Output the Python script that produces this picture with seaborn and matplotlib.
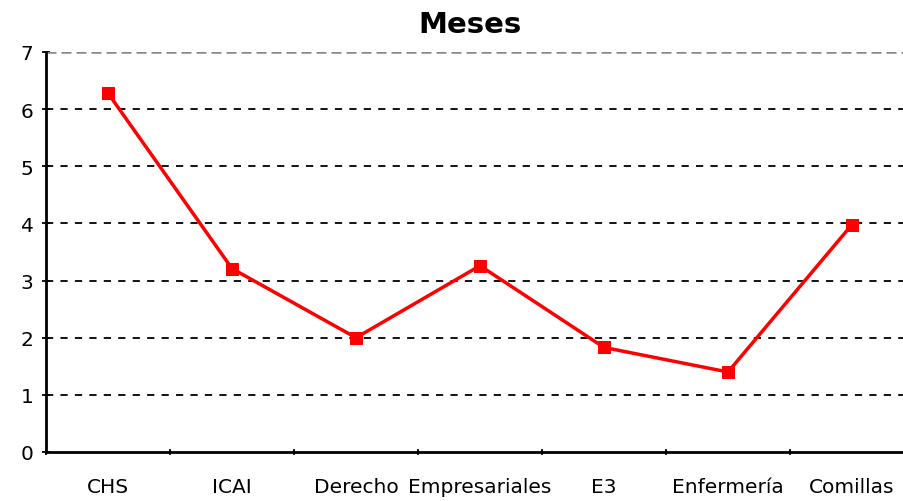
import matplotlib
matplotlib.use("Agg")
import matplotlib.pyplot as plt
import seaborn as sns
import pandas as pd
import numpy as np

categories = ["CHS", "ICAI", "Derecho", "Empresariales", "E3", "Enfermería", "Comillas"]
meses = [6.28, 3.21, 2.0, 3.26, 1.83, 1.40, 3.98]

sns.set_theme(style="white")
plt.rcParams['font.family'] = ['DejaVu Sans']
plt.rcParams['text.color'] = 'black'
plt.rcParams['xtick.color'] = 'black'
plt.rcParams['ytick.color'] = 'black'

df = pd.DataFrame({"cat": categories, "x": np.arange(len(categories)), "meses": meses})

fig = plt.figure(figsize=(9.04, 5.02), dpi=100)
ax = fig.add_axes([46/904, 49/502, 868/904, 400/502])

for v in range(1, 7):
    ax.axhline(v, color="black", linestyle=(0, (4, 4)), linewidth=1.3, zorder=1)
ax.axhline(7, color="#888888", linestyle=(0, (4, 2)), linewidth=1.8, zorder=1)

sns.lineplot(data=df, x="x", y="meses", ax=ax, color="#ff0000", linewidth=2.5,
             marker="s", markersize=8, markeredgecolor="#ff0000", zorder=3)

ax.set_xlim(-0.5, 6.5)
ax.set_ylim(0, 7)
ax.set_yticks(range(0, 8))
ax.set_xticks(np.arange(len(categories)))
ax.set_xticklabels(categories, fontsize=14.5, color="black")
ax.set_xticks(np.arange(-0.5, 7, 1), minor=True)
ax.tick_params(axis="x", which="major", bottom=True, length=0, pad=18)
ax.tick_params(axis="x", which="minor", bottom=True, length=5, width=1.3, color="black", direction="inout")
ax.tick_params(axis="y", left=True, length=6, width=1.3, color="black", direction="inout",
               labelsize=14.5, pad=6, labelcolor="black")
ax.set_xlabel("")
ax.set_ylabel("")
for s in ["top", "right"]:
    ax.spines[s].set_visible(False)
for s in ["left", "bottom"]:
    ax.spines[s].set_color("black")
    ax.spines[s].set_linewidth(2)
fig.text(470/904, 1 - 25/502, "Meses", ha="center", va="center", fontsize=21,
         fontweight="bold", color="black")

fig.savefig("out.png", dpi=100)
